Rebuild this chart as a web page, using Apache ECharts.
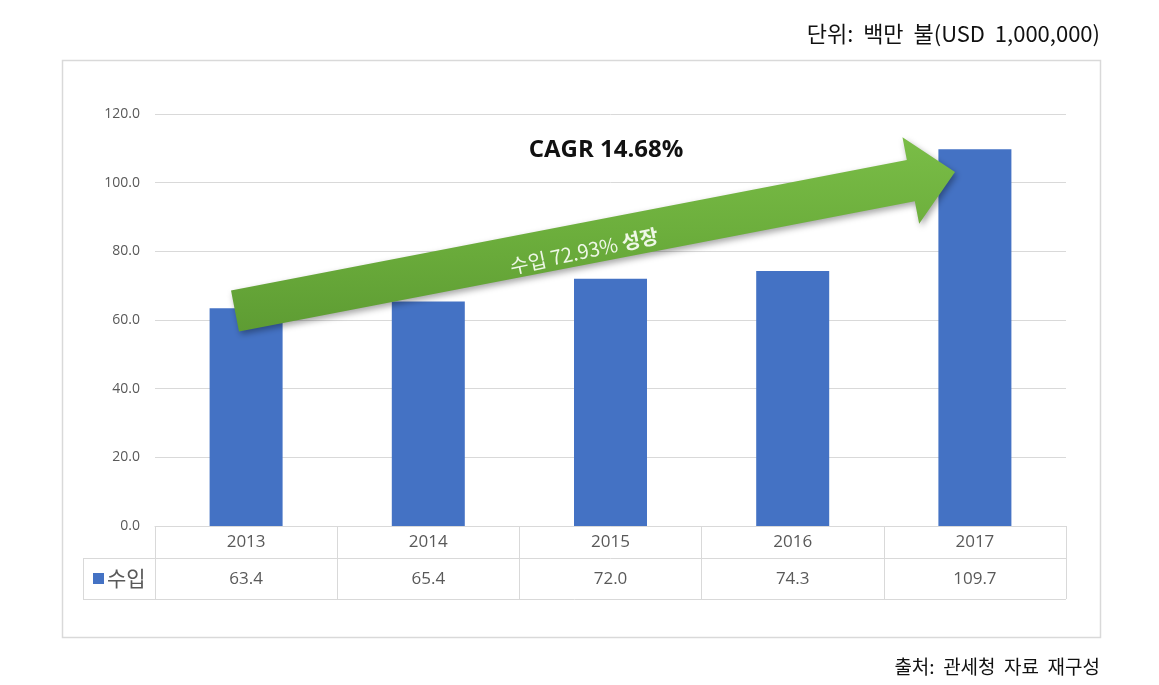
<!DOCTYPE html>
<html><head><meta charset="utf-8">
<script src="https://cdn.jsdelivr.net/npm/echarts@6/dist/echarts.min.js"></script>
<style>html,body{margin:0;padding:0;background:#fff}#c{width:1159px;height:685px}</style>
</head><body><div id="c"></div>
<script>
const years = ['2013','2014','2015','2016','2017'];
const imports = [63.4, 65.4, 72.0, 74.3, 109.7];
const yTicks = [0, 20, 40, 60, 80, 100, 120];
const seriesName = '수입';
const unitText = '단위:  백만  불(USD  1,000,000)';
const sourceText = '출처:  관세청  자료  재구성';
const cagrText = 'CAGR 14.68%';
const growthText = '수입 72.93% ';
const growthBold = '성장';

const KR = "'Noto Sans CJK KR', sans-serif";
const NUM = "'Open Sans', 'Noto Sans', sans-serif";
const chart = echarts.init(document.getElementById('c'));

const G = {left:155, right:1066, top:114, bottom:526};
const row1 = 558, row2 = 599, legLeft = 83;

// arrow geometry (annotation)
const T=[235,311], tip=[955,172];
const dx=tip[0]-T[0], dy=tip[1]-T[1], len=Math.hypot(dx,dy);
const u=[dx/len,dy/len], n=[-u[1],u[0]];
const w=21, hw=44, hl=45;
const B=[T[0]+u[0]*(len-hl), T[1]+u[1]*(len-hl)];
const P=(p,k)=>[p[0]+n[0]*k, p[1]+n[1]*k];
const arrowPts=[P(T,-w),P(B,-w),P(B,-hw),tip,P(B,hw),P(B,w),P(T,w)];

chart.setOption({
  animation:false,
  textStyle:{fontFamily:NUM},
  grid:{left:G.left, right:1159-G.right, top:G.top, bottom:685-G.bottom, containLabel:false},
  legend:{left:88, top:563, itemWidth:11, itemHeight:11, itemGap:3, icon:'rect',
    textStyle:{fontFamily:KR, fontSize:21, color:'#595959', padding:[0,0,0,-2]},
    data:[seriesName]},
  xAxis:{type:'category', data:years, boundaryGap:true,
    axisLine:{show:true, lineStyle:{color:'#d9d9d9', width:1}},
    axisTick:{show:true, alignWithLabel:false, interval:0, length:row2-G.bottom, lineStyle:{color:'#d9d9d9'}},
    axisLabel:{interval:0, margin:5,
      formatter:(v,i)=>'{y|'+v+'}\n{v|'+imports[i].toFixed(1)+'}',
      rich:{y:{fontSize:17, color:'#595959', lineHeight:22, fontFamily:NUM},
            v:{fontSize:17, color:'#595959', lineHeight:52, fontFamily:NUM}}}},
  yAxis:{type:'value', min:yTicks[0], max:yTicks[yTicks.length-1], interval:20,
    axisLine:{show:false}, axisTick:{show:false},
    axisLabel:{formatter:v=>v.toFixed(1), color:'#595959', fontSize:14, margin:15, fontFamily:NUM},
    splitLine:{lineStyle:{color:'#d9d9d9', width:1}}},
  series:[{name:seriesName, type:'bar', data:imports, barWidth:73,
    itemStyle:{color:'#4472c4'}}],
  graphic:[
    {type:'rect', z:-1, shape:{x:62.5,y:60.5,width:1038,height:577}, style:{fill:'none', stroke:'#d9d9d9', lineWidth:1.5}},
    {type:'line', shape:{x1:G.left,y1:row1+0.5,x2:G.right,y2:row1+0.5}, style:{stroke:'#d9d9d9',lineWidth:1}},
    {type:'line', shape:{x1:legLeft,y1:row1+0.5,x2:G.left,y2:row1+0.5}, style:{stroke:'#d9d9d9',lineWidth:1}},
    {type:'line', shape:{x1:legLeft,y1:row2+0.5,x2:G.right,y2:row2+0.5}, style:{stroke:'#d9d9d9',lineWidth:1}},
    {type:'line', shape:{x1:legLeft+0.5,y1:row1,x2:legLeft+0.5,y2:row2}, style:{stroke:'#d9d9d9',lineWidth:1}},
    {type:'polygon', z:10, shape:{points:arrowPts},
      style:{fill:new echarts.graphic.LinearGradient(0,0,0,1,[{offset:0,color:'#7abd47'},{offset:0.5,color:'#6cae3c'},{offset:1,color:'#5e9c33'}]),
        shadowBlur:6, shadowColor:'rgba(0,0,0,0.35)', shadowOffsetX:2, shadowOffsetY:3}},
    {type:'text', z:11, x:584, y:251, rotation:-Math.atan2(dy,dx)+0.02,
      style:{text:'{n|'+growthText+'}{b|'+growthBold+'}', align:'center', verticalAlign:'middle',
        rich:{n:{fontFamily:KR, fontSize:20, fill:'#eef7e6'}, b:{fontFamily:KR, fontSize:20, fontWeight:'bold', fill:'#eef7e6'}}}},
    {type:'text', z:11, x:606, y:150, style:{text:cagrText, align:'center', verticalAlign:'middle',
      font:"bold 24px 'Open Sans', sans-serif", fill:'#111'}},
    {type:'text', x:1100, y:34, style:{text:unitText, align:'right', verticalAlign:'middle',
      font:"22px 'Noto Sans CJK KR', sans-serif", fill:'#111'}},
    {type:'text', x:1100, y:667, style:{text:sourceText, align:'right', verticalAlign:'middle',
      font:"19px 'Noto Sans CJK KR', sans-serif", fill:'#111'}}
  ]
});
</script></body></html>
